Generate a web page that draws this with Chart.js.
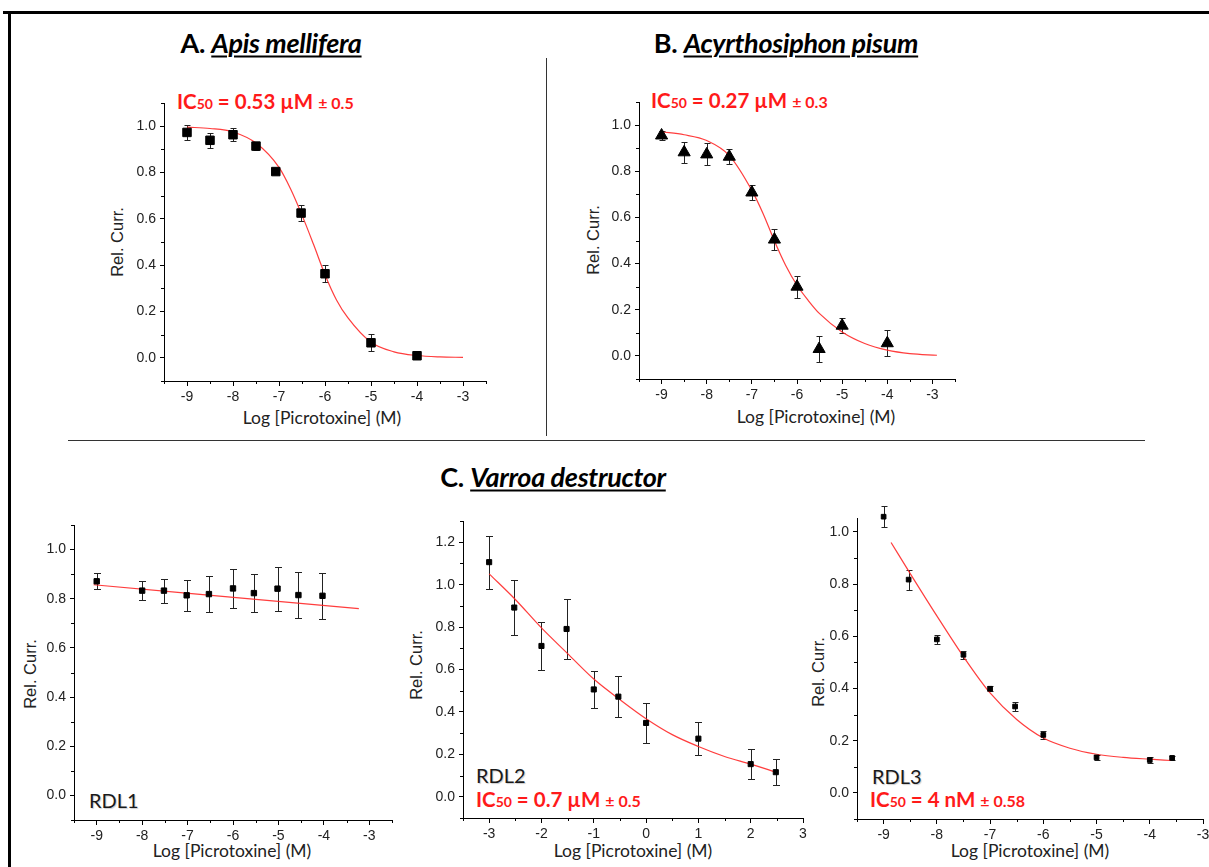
<!DOCTYPE html>
<html><head><meta charset="utf-8">
<script src="https://cdn.jsdelivr.net/npm/chart.js@4.4.1/dist/chart.umd.min.js"></script>
<style>
html,body{margin:0;padding:0;background:#fff;}
body{width:1209px;height:867px;overflow:hidden;position:relative;}
canvas{position:absolute;}
.line{position:absolute;background:#000;}
.title{position:absolute;font-family:Lato,sans-serif;font-weight:700;font-size:27px;color:#000;white-space:nowrap;transform:translate(-50%,-50%);letter-spacing:-0.3px;}
.title i{text-decoration:underline;text-decoration-thickness:2px;text-underline-offset:3px;}
.xt{position:absolute;font-family:Lato,sans-serif;font-size:17.5px;color:#222;white-space:nowrap;transform:translate(-50%,-50%);}
.yt{position:absolute;font-family:"Liberation Sans",Arial,sans-serif;font-size:16.5px;color:#222;white-space:nowrap;transform:translate(-50%,-50%) rotate(-90deg);}
.ic{position:absolute;font-family:Lato,sans-serif;font-weight:700;color:#ff1a1a;font-size:20.5px;white-space:nowrap;transform:translateY(-50%);}
.ic .s{font-size:14px;}
.ic .pm{font-size:16px;}
.rdl{position:absolute;font-family:Lato,sans-serif;font-size:20px;color:#1a1a1a;white-space:nowrap;transform:translateY(-50%);text-shadow:1px 1px 1px rgba(0,0,0,0.2);}
</style></head>
<body>
<div class="line" style="left:3px;top:11px;width:1206px;height:3px;"></div>
<div class="line" style="left:8px;top:11px;width:3px;height:856px;"></div>
<div class="line" style="left:546px;top:58px;width:1px;height:378px;background:#333;"></div>
<div class="line" style="left:68px;top:440px;width:1077px;height:1px;background:#333;"></div>

<div class="title" style="left:271px;top:42px;">A. <i>Apis mellifera</i></div>
<div class="title" style="left:786px;top:42px;">B. <i>Acyrthosiphon pisum</i></div>
<div class="title" style="left:553px;top:476px;">C. <i>Varroa destructor</i></div>

<div class="ic" style="left:177px;top:101px;">IC<span class="s">50</span> = 0.53 µM <span class="pm">± 0.5</span></div>
<div class="ic" style="left:651px;top:100px;">IC<span class="s">50</span> = 0.27 µM <span class="pm">± 0.3</span></div>
<div class="ic" style="left:476px;top:799px;">IC<span class="s">50</span> = 0.7 µM <span class="pm">± 0.5</span></div>
<div class="ic" style="left:870px;top:799px;">IC<span class="s">50</span> = 4 nM <span class="pm">± 0.58</span></div>

<div class="rdl" style="left:89px;top:800px;">RDL1</div>
<div class="rdl" style="left:476px;top:775px;">RDL2</div>
<div class="rdl" style="left:872px;top:776px;">RDL3</div>

<div class="xt" style="left:322px;top:417px;">Log [Picrotoxine] (M)</div>
<div class="xt" style="left:816px;top:416px;">Log [Picrotoxine] (M)</div>
<div class="xt" style="left:232px;top:850px;">Log [Picrotoxine] (M)</div>
<div class="xt" style="left:633px;top:850px;">Log [Picrotoxine] (M)</div>
<div class="xt" style="left:1030px;top:850px;">Log [Picrotoxine] (M)</div>

<div class="yt" style="left:117px;top:242px;">Rel. Curr.</div>
<div class="yt" style="left:593px;top:240px;">Rel. Curr.</div>
<div class="yt" style="left:30px;top:674px;">Rel. Curr.</div>
<div class="yt" style="left:416px;top:665px;">Rel. Curr.</div>
<div class="yt" style="left:818px;top:672px;">Rel. Curr.</div>

<script>
// ---------- Data ----------
// A. Apis mellifera
const aX = [-9, -8.5, -8, -7.5, -7.07, -6.52, -6, -5, -4];
const aY = [0.973, 0.939, 0.963, 0.914, 0.804, 0.625, 0.363, 0.065, 0.009];
const aErr = [0.034, 0.032, 0.027, 0.016, 0.01, 0.035, 0.036, 0.036, 0.006];
const aFitX = [-9, -8.5, -8, -7.5, -7, -6.75, -6.5, -6.25, -6, -5.75, -5.5, -5, -4.5, -4, -3.5, -3];
const aFitY = [0.996, 0.99, 0.975, 0.927, 0.822, 0.73, 0.616, 0.49, 0.359, 0.25, 0.172, 0.067, 0.026, 0.01, 0.004, 0.002];

// B. Acyrthosiphon pisum
const bX = [-9, -8.5, -8, -7.5, -7, -6.5, -6, -5.51, -5, -4];
const bY = [0.955, 0.882, 0.873, 0.863, 0.708, 0.504, 0.30, 0.03, 0.131, 0.055];
const bErr = [0.02, 0.045, 0.048, 0.033, 0.034, 0.044, 0.047, 0.058, 0.033, 0.056];
const bFitX = [-9, -8.5, -8, -7.5, -7, -6.75, -6.5, -6.25, -6, -5.75, -5.5, -5, -4.5, -4, -3.5, -2.9];
const bFitY = [0.971, 0.958, 0.933, 0.868, 0.717, 0.616, 0.498, 0.392, 0.306, 0.24, 0.183, 0.104, 0.054, 0.025, 0.010, 0.003];

// C. Varroa destructor - RDL1
const r1X = [-9, -8, -7.52, -7.02, -6.53, -6, -5.54, -5.02, -4.56, -4.03];
const r1Y = [0.871, 0.833, 0.833, 0.814, 0.819, 0.842, 0.823, 0.841, 0.815, 0.812];
const r1Err = [0.032, 0.039, 0.049, 0.062, 0.072, 0.08, 0.078, 0.089, 0.092, 0.093];
const r1FitX = [-9.07, -3.23];
const r1FitY = [0.857, 0.76];

// RDL2
const r2X = [-3, -2.52, -2, -1.52, -1, -0.53, 0, 1, 2, 2.48];
const r2Y = [1.106, 0.892, 0.711, 0.791, 0.506, 0.472, 0.348, 0.274, 0.154, 0.116];
const r2Err = [0.125, 0.13, 0.115, 0.142, 0.088, 0.098, 0.095, 0.078, 0.07, 0.06];
const r2FitX = [-3, -2.5, -2, -1.5, -1, -0.5, 0, 0.5, 1, 1.5, 2, 2.5];
const r2FitY = [1.051, 0.93, 0.796, 0.675, 0.555, 0.458, 0.368, 0.293, 0.237, 0.19, 0.154, 0.115];

// RDL3
const r3X = [-9, -8.53, -8, -7.5, -7, -6.53, -6, -5, -4, -3.58];
const r3Y = [1.058, 0.817, 0.588, 0.529, 0.399, 0.331, 0.222, 0.136, 0.126, 0.134];
const r3Err = [0.041, 0.038, 0.017, 0.016, 0.01, 0.019, 0.015, 0.01, 0.01, 0.009];
const r3FitX = [-8.86, -8.5, -8, -7.5, -7, -6.5, -6, -5.5, -5, -4.5, -4, -3.6];
const r3FitY = [0.959, 0.84, 0.678, 0.522, 0.383, 0.281, 0.21, 0.171, 0.148, 0.136, 0.129, 0.124];

// Tick values
const xMajorLog = [-9, -8, -7, -6, -5, -4, -3];
const xMinorLog = [-9.5, -8.5, -7.5, -6.5, -5.5, -4.5, -3.5, -2.5];
const xMinorLog3 = [-9.5, -8.5, -7.5, -6.5, -5.5, -4.5, -3.5];
const xMajorR2 = [-3, -2, -1, 0, 1, 2, 3];
const xMinorR2 = [-3.5, -2.5, -1.5, -0.5, 0.5, 1.5, 2.5];
const yMajor = [0, 0.2, 0.4, 0.6, 0.8, 1.0];
const yMinor = [-0.1, 0.1, 0.3, 0.5, 0.7, 0.9, 1.1];
const yMajorR2 = [0, 0.2, 0.4, 0.6, 0.8, 1.0, 1.2];
const yMinorR2 = [-0.1, 0.1, 0.3, 0.5, 0.7, 0.9, 1.1, 1.3];
const yMinorR3 = [-0.1, 0.1, 0.3, 0.5, 0.7, 0.9];

// ---------- Drawing ----------
const PADL = 60, PADT = 15, PADR = 15, PADB = 40;

function extrasPlugin(cfg) {
  return {
    id: 'extras',
    beforeDatasetsDraw(chart) {
      const ctx = chart.ctx, xs = chart.scales.x, ys = chart.scales.y;
      ctx.save();
      ctx.strokeStyle = '#222';
      ctx.lineWidth = 1;
      const cap = cfg.cap;
      cfg.x.forEach((v, i) => {
        const px = Math.round(xs.getPixelForValue(v)) + 0.5;
        const y1 = Math.round(ys.getPixelForValue(cfg.y[i] - cfg.err[i])) + 0.5;
        const y2 = Math.round(ys.getPixelForValue(cfg.y[i] + cfg.err[i])) + 0.5;
        ctx.beginPath();
        ctx.moveTo(px, y1); ctx.lineTo(px, y2);
        ctx.moveTo(px - cap, y1); ctx.lineTo(px + cap, y1);
        ctx.moveTo(px - cap, y2); ctx.lineTo(px + cap, y2);
        ctx.stroke();
      });
      ctx.restore();
    },
    afterDraw(chart) {
      const ctx = chart.ctx, xs = chart.scales.x, ys = chart.scales.y, a = chart.chartArea;
      ctx.save();
      ctx.strokeStyle = '#000';
      ctx.lineWidth = 1;
      ctx.beginPath();
      cfg.xMinor.forEach(v => {
        const px = Math.round(xs.getPixelForValue(v)) + 0.5;
        ctx.moveTo(px, a.bottom); ctx.lineTo(px, a.bottom + 3);
      });
      cfg.yMinor.forEach(v => {
        const py = Math.round(ys.getPixelForValue(v)) + 0.5;
        ctx.moveTo(a.left - 3, py); ctx.lineTo(a.left, py);
      });
      ctx.stroke();
      ctx.restore();
    }
  };
}

function makeChart(cfg) {
  const c = document.createElement('canvas');
  const w = cfg.R - cfg.L + PADL + PADR, h = cfg.B - cfg.T + PADT + PADB;
  c.width = w; c.height = h;
  c.style.left = (cfg.L - PADL) + 'px';
  c.style.top = (cfg.T - PADT) + 'px';
  c.style.width = w + 'px';
  c.style.height = h + 'px';
  document.body.appendChild(c);
  const tickFont = {family: '"Liberation Sans", Arial, sans-serif', size: 14};
  new Chart(c, {
    type: 'scatter',
    data: {
      datasets: [
        {
          data: cfg.x.map((v, i) => ({x: v, y: cfg.y[i]})),
          showLine: false,
          pointStyle: cfg.marker,
          pointRadius: cfg.r,
          backgroundColor: '#000',
          borderColor: '#000',
          borderWidth: 1,
          order: 0,
          clip: false
        },
        {
          data: cfg.fx.map((v, i) => ({x: v, y: cfg.fy[i]})),
          showLine: true,
          pointRadius: 0,
          borderColor: 'rgba(255,40,40,0.9)',
          borderWidth: 1.2,
          cubicInterpolationMode: 'monotone',
          fill: false,
          order: 1,
          clip: false
        }
      ]
    },
    options: {
      responsive: false,
      animation: false,
      devicePixelRatio: 1,
      events: [],
      layout: {padding: {left: 0, top: PADT, right: PADR, bottom: 0}},
      plugins: {legend: {display: false}, tooltip: {enabled: false}},
      scales: {
        x: {
          type: 'linear', min: cfg.xmin, max: cfg.xmax,
          afterBuildTicks: s => { s.ticks = cfg.xMajor.map(v => ({value: v})); },
          afterFit: s => { s.height = PADB; },
          ticks: {callback: v => String(v), font: tickFont, color: '#222', padding: 3, maxRotation: 0, autoSkip: false},
          grid: {drawOnChartArea: false, drawTicks: true, tickLength: 5, tickColor: '#000', tickWidth: 1},
          border: {display: true, color: '#000', width: 1}
        },
        y: {
          type: 'linear', min: cfg.ymin, max: cfg.ymax,
          afterBuildTicks: s => { s.ticks = cfg.yMajor.map(v => ({value: v})); },
          afterFit: s => { s.width = PADL; },
          ticks: {callback: v => Number(v).toFixed(1), font: tickFont, color: '#222', padding: 4, autoSkip: false},
          grid: {drawOnChartArea: false, drawTicks: true, tickLength: 4, tickColor: '#000', tickWidth: 1},
          border: {display: true, color: '#000', width: 1}
        }
      }
    },
    plugins: [extrasPlugin(cfg)]
  });
}

makeChart({L: 164, T: 103, R: 486, B: 381, xmin: -9.5, xmax: -2.5, ymin: -0.1, ymax: 1.1,
  x: aX, y: aY, err: aErr, fx: aFitX, fy: aFitY, marker: 'rect', r: 6, cap: 3,
  xMajor: xMajorLog, xMinor: xMinorLog, yMajor: yMajor, yMinor: yMinor});

makeChart({L: 639, T: 102, R: 955, B: 379, xmin: -9.5, xmax: -2.5, ymin: -0.1, ymax: 1.1,
  x: bX, y: bY, err: bErr, fx: bFitX, fy: bFitY, marker: 'triangle', r: 7, cap: 3,
  xMajor: xMajorLog, xMinor: xMinorLog, yMajor: yMajor, yMinor: yMinor});

makeChart({L: 74, T: 525, R: 392, B: 820, xmin: -9.5, xmax: -2.5, ymin: -0.1, ymax: 1.1,
  x: r1X, y: r1Y, err: r1Err, fx: r1FitX, fy: r1FitY, marker: 'rect', r: 3.8, cap: 3.5,
  xMajor: xMajorLog, xMinor: xMinorLog, yMajor: yMajor, yMinor: yMinor});

makeChart({L: 463, T: 521, R: 803, B: 818, xmin: -3.5, xmax: 3, ymin: -0.1, ymax: 1.3,
  x: r2X, y: r2Y, err: r2Err, fx: r2FitX, fy: r2FitY, marker: 'rect', r: 3.6, cap: 3.5,
  xMajor: xMajorR2, xMinor: xMinorR2, yMajor: yMajorR2, yMinor: yMinorR2});

makeChart({L: 857, T: 518, R: 1203, B: 819, xmin: -9.5, xmax: -3, ymin: -0.1, ymax: 1.053,
  x: r3X, y: r3Y, err: r3Err, fx: r3FitX, fy: r3FitY, marker: 'rect', r: 3.3, cap: 3,
  xMajor: xMajorLog, xMinor: xMinorLog3, yMajor: yMajor, yMinor: yMinorR3});
</script>
</body></html>
